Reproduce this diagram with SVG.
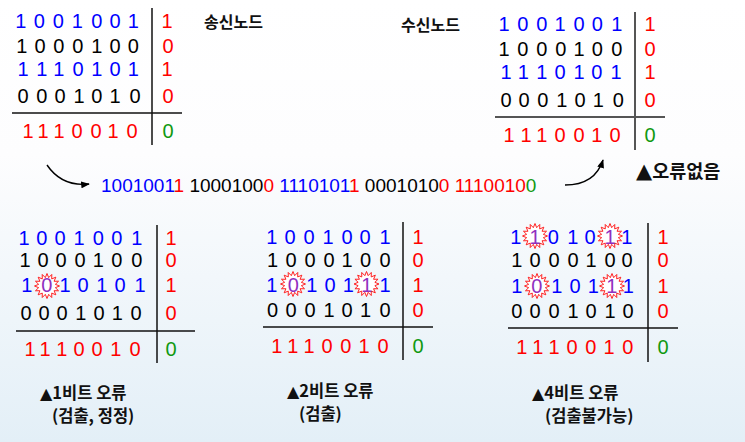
<svg xmlns="http://www.w3.org/2000/svg" xmlns:xlink="http://www.w3.org/1999/xlink" width="745" height="442" viewBox="0 0 745 442">
<defs>
<linearGradient id="bg" x1="0" y1="0" x2="0" y2="1">
<stop offset="0" stop-color="#ffffff"/>
<stop offset="0.35" stop-color="#fdfdfe"/>
<stop offset="1" stop-color="#e3eff7"/>
</linearGradient>
<polygon id="burst" points="12.5,0 8.34,1.66 11.55,4.78 7.07,4.72 8.84,8.84 4.72,7.07 4.78,11.55 1.66,8.34 0,12.5 -1.66,8.34 -4.78,11.55 -4.72,7.07 -8.84,8.84 -7.07,4.72 -11.55,4.78 -8.34,1.66 -12.5,0 -8.34,-1.66 -11.55,-4.78 -7.07,-4.72 -8.84,-8.84 -4.72,-7.07 -4.78,-11.55 -1.66,-8.34 0,-12.5 1.66,-8.34 4.78,-11.55 4.72,-7.07 8.84,-8.84 7.07,-4.72 11.55,-4.78 8.34,-1.66"/>
<marker id="ah" viewBox="0 0 10 8" refX="9" refY="4" markerWidth="9" markerHeight="7" markerUnits="userSpaceOnUse" orient="auto">
<path d="M0,0 L10,4 L0,8 Z" fill="#000"/>
</marker>
<style>
.d { font-family: "Liberation Sans", Arial, sans-serif; font-size: 20px; text-anchor: middle; }
.s { font-family: "Liberation Sans", Arial, sans-serif; font-size: 19px; }
.b { fill: #0000ff; }
.r { fill: #ff0000; }
.k { fill: #000000; }
.g { fill: #109910; }
.p { fill: #9030c0; }
.kr { font-family: "Noto Sans CJK KR", "Noto Sans", sans-serif; font-weight: bold; fill: #111; }
.tri { font-family: "DejaVu Sans", sans-serif; font-weight: normal; }
.ln { stroke: #111; stroke-width: 1.5; fill: none; }
.ln2 { stroke: #555; stroke-width: 2; fill: none; }
.bu { fill: #ffffff; stroke: #ff2020; stroke-width: 1; }
.cn { stroke: #000; stroke-width: 1.4; fill: none; marker-end: url(#ah); }
</style>
</defs>
<rect x="0" y="0" width="745" height="442" fill="url(#bg)"/>

<g id="sender">
<line class="ln" x1="152" y1="8" x2="152" y2="145"/>
<line class="ln" x1="12" y1="113" x2="182" y2="113"/>
<text class="d b" x="20.7 39.3 58.3 77.3 96.7 115 133.3" y="28">1001001</text>
<text class="d k" x="21.7 40 58.8 77.8 96.7 115 133.3" y="53">1000100</text>
<text class="d b" x="23 41.7 58.8 78 96.7 115 133.3" y="76">1110101</text>
<text class="d k" x="23 41.7 60 79 96.7 115 135" y="103">0001010</text>
<text class="d r" x="28 43 59 77 96 113 132" y="138">1110010</text>
<text class="d r" x="167" y="28">1</text>
<text class="d r" x="168" y="53">0</text>
<text class="d r" x="167" y="76">1</text>
<text class="d r" x="168" y="103">0</text>
<text class="d g" x="168" y="138">0</text>
<text class="kr" x="204" y="28" font-size="16">송신노드</text>
</g>

<g id="receiver">
<line class="ln2" x1="635" y1="12" x2="635" y2="150"/>
<line class="ln2" x1="495" y1="117" x2="665" y2="117"/>
<text class="d b" x="504 522.7 541.7 560 579 597.3 616.7" y="31">1001001</text>
<text class="d k" x="504 522.7 541.7 560.7 579 597.3 616.7" y="56">1000100</text>
<text class="d b" x="506 523.3 541.7 560 579 596.7 616" y="79">1110101</text>
<text class="d k" x="506 524 542.7 561.7 580 598.3 618.3" y="107">0001010</text>
<text class="d r" x="509 526 541.7 560 579 596.7 615" y="142">1110010</text>
<text class="d r" x="650" y="31">1</text>
<text class="d r" x="650" y="56">0</text>
<text class="d r" x="650" y="79">1</text>
<text class="d r" x="650" y="107">0</text>
<text class="d g" x="650" y="142">0</text>
<text class="kr" x="401" y="31" font-size="16">수신노드</text>
<text class="kr" x="636" y="178" font-size="18.5"><tspan class="tri" font-size="21">▲</tspan>오류없음</text>
</g>

<g id="stream">
<text class="s" x="101" y="192"><tspan class="b">1001001</tspan><tspan class="r">1</tspan> <tspan class="k">1000100</tspan><tspan class="r">0</tspan> <tspan class="b">1110101</tspan><tspan class="r">1</tspan> <tspan class="k">0001010</tspan><tspan class="r">0</tspan> <tspan class="r">1110010</tspan><tspan class="g">0</tspan></text>
</g>

<g id="err1">
<line class="ln" x1="157" y1="225" x2="157" y2="363"/>
<line class="ln" x1="16" y1="331" x2="195" y2="331"/>
<use xlink:href="#burst" href="#burst" class="bu" x="47" y="286"/>
<text class="d b" x="24 41.7 60 79 98.3 116.7 136.7" y="245">1001001</text>
<text class="d k" x="25 43 61 80 98.3 116.7 136.7" y="267">1000100</text>
<text class="d" y="292"><tspan class="b" x="26.7">1</tspan><tspan class="p" x="46.7">0</tspan><tspan class="b" x="65 83 101.7 120 140">10101</tspan></text>
<text class="d k" x="26 44 62 80.7 99 117.3 136" y="320">0001010</text>
<text class="d r" x="30 45 61.7 79 97 115.7 135" y="356">1110010</text>
<text class="d r" x="171" y="245">1</text>
<text class="d r" x="171" y="267">0</text>
<text class="d r" x="171" y="292">1</text>
<text class="d r" x="171" y="320">0</text>
<text class="d g" x="171" y="356">0</text>
<text class="kr" x="40" y="399" font-size="16.5"><tspan class="tri" font-size="16">▲</tspan>1비트 오류</text>
<text class="kr" x="52" y="422" font-size="16.5">(검출, 정정)</text>
</g>

<g id="err2">
<line class="ln" x1="403" y1="222" x2="403" y2="360"/>
<line class="ln" x1="263" y1="327" x2="433" y2="327"/>
<use xlink:href="#burst" href="#burst" class="bu" x="293" y="284"/>
<use xlink:href="#burst" href="#burst" class="bu" x="366.5" y="284"/>
<text class="d b" x="271.7 290 309 328 347 365 385" y="244">1001001</text>
<text class="d k" x="272.5 291 310 329 347 365.5 385" y="267">1000100</text>
<text class="d" y="292"><tspan class="b" x="271.7">1</tspan><tspan class="p" x="293.3">0</tspan><tspan class="b" x="311.7 330 348.3">101</tspan><tspan class="p" x="366.7">1</tspan><tspan class="b" x="385">1</tspan></text>
<text class="d k" x="272.5 291 310 329 347 365.5 385" y="317">0001010</text>
<text class="d r" x="276.7 292.7 309 327 345.7 364 383" y="353">1110010</text>
<text class="d r" x="418" y="244">1</text>
<text class="d r" x="418" y="267">0</text>
<text class="d r" x="418" y="292">1</text>
<text class="d r" x="418" y="317">0</text>
<text class="d g" x="418" y="353">0</text>
<text class="kr" x="287" y="397" font-size="16.5"><tspan class="tri" font-size="16">▲</tspan>2비트 오류</text>
<text class="kr" x="299" y="420" font-size="16.5">(검출)</text>
</g>

<g id="err4">
<line class="ln" x1="648" y1="223" x2="648" y2="362"/>
<line class="ln" x1="508" y1="328" x2="678" y2="328"/>
<use xlink:href="#burst" href="#burst" class="bu" x="535" y="236"/>
<use xlink:href="#burst" href="#burst" class="bu" x="610" y="236"/>
<use xlink:href="#burst" href="#burst" class="bu" x="537" y="286"/>
<use xlink:href="#burst" href="#burst" class="bu" x="612" y="286"/>
<text class="d" y="244"><tspan class="b" x="515.7">1</tspan><tspan class="p" x="535">1</tspan><tspan class="b" x="553.3 572.7 590">010</tspan><tspan class="p" x="610">1</tspan><tspan class="b" x="626.7">1</tspan></text>
<text class="d k" x="516.7 535 554 573 591 610 627" y="267">1000100</text>
<text class="d" y="293"><tspan class="b" x="516.7">1</tspan><tspan class="p" x="536.7">0</tspan><tspan class="b" x="556.7 575 593.3">101</tspan><tspan class="p" x="611.7">1</tspan><tspan class="b" x="628.3">1</tspan></text>
<text class="d k" x="516.7 535 554 573 591 610 628" y="318">0001010</text>
<text class="d r" x="521.7 537.7 554 572 590.7 609 627.7" y="354">1110010</text>
<text class="d r" x="663" y="244">1</text>
<text class="d r" x="663" y="267">0</text>
<text class="d r" x="663" y="293">1</text>
<text class="d r" x="663" y="318">0</text>
<text class="d g" x="663" y="354">0</text>
<text class="kr" x="532" y="399" font-size="16.5"><tspan class="tri" font-size="16">▲</tspan>4비트 오류</text>
<text class="kr" x="545" y="422" font-size="16.5">(검출불가능)</text>
</g>

<g id="connectors">
<path class="cn" d="M47,165 Q62,187 89,184"/>
<path class="cn" d="M565,185 Q595,185 603,160"/>
</g>
</svg>
